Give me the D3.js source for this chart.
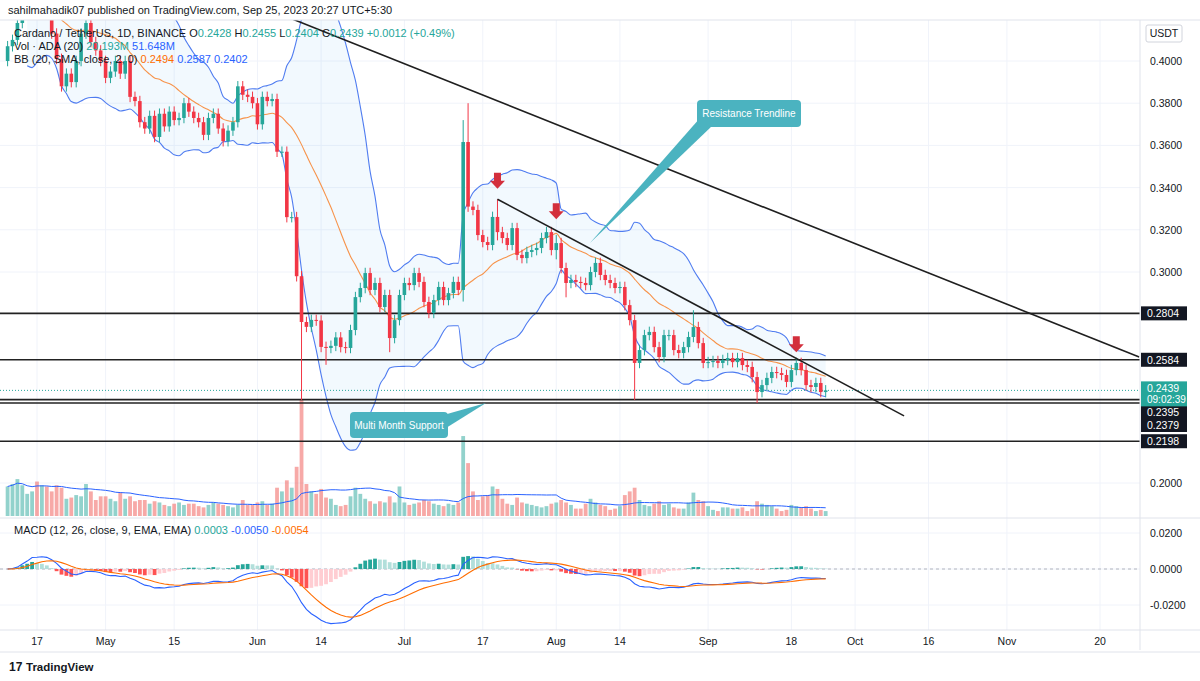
<!DOCTYPE html>
<html><head><meta charset="utf-8">
<script src="https://cdn.jsdelivr.net/npm/d3@7"></script>
<style>body{margin:0;background:#fff}svg{display:block;font-family:"Liberation Sans",Arial,sans-serif}</style>
</head><body><svg id="c" width="1200" height="681"></svg>
<script>
// ---- DATA (daily, starting 2023-04-11) ----
const startDate = "2023-04-11";
const closes = [
0.407,0.410,0.418,0.432,0.435,0.445,0.428,0.432,0.425,0.413,
0.401,0.388,0.394,0.390,0.400,0.413,0.418,0.409,0.405,0.400,
0.392,0.395,0.400,0.394,0.400,0.383,0.381,0.371,0.368,0.374,0.364,0.375,0.369,0.376,0.372,0.373,0.380,0.376,0.373,0.371,0.365,0.373,0.375,0.368,0.362,0.367,0.371,0.388,0.384,0.383,0.380,
0.370,0.383,0.381,0.382,0.357,0.357,0.326,0.326,0.298,
0.2763,0.274,0.2773,0.277,0.2645,0.264,0.265,0.269,0.2644,0.264,0.2725,0.2881,0.2924,0.2995,0.2915,0.2948,0.2834,0.2891,0.2687,0.2772,0.2891,
0.2948,0.2938,0.2995,0.2953,0.2858,0.2806,0.2867,0.2929,0.2867,0.290,0.2953,0.2915,0.3616,0.331,0.3294,0.3175,0.3142,0.3128,0.3261,0.3189,0.3161,0.3128,0.3208,0.3081,0.3066,0.3095,0.3104,0.3114,0.3161,0.3189,0.3104,
0.3137,0.3019,0.2948,0.2962,0.2953,0.2948,0.2938,0.300,0.3043,0.2986,0.2962,0.2948,0.2924,0.2929,0.2843,0.2772,0.2569,0.263,0.2701,0.2716,0.2644,0.2597,0.2701,0.2701,0.263,0.2616,0.2644,0.2692,0.2739,0.2663,0.2569,
0.2573,0.2578,0.2569,0.2583,0.2592,0.2573,0.2592,0.2559,0.255,0.2502,0.2431,0.2464,0.2498,0.2526,0.2521,0.2512,0.2479,0.2535,0.2569,0.2535,0.2464,0.2455,0.2474,0.2431,0.2439];
const firstOpen = 0.400;
// notable wicks: [date, high, low]
const wicks = [
["2023-06-10",0.2990,0.2393],["2023-07-13",0.3720,0.2860],["2023-07-14",0.3800,0.3300],
["2023-07-20",0.3345,0.3150],["2023-08-01",0.3175,0.3060],["2023-08-17",0.2790,0.2393],
["2023-08-29",0.2819,0.2690],["2023-09-11",0.2510,0.2379],["2023-09-19",0.2592,0.2520],
["2023-06-15",0.2660,0.2560],["2023-06-28",0.2860,0.2620],["2023-08-03",0.3020,0.2880]];
const volumes = [
240,260,300,250,180,200,280,250,240,200,
250,230,140,150,170,160,260,200,130,160,
160,140,120,190,140,160,120,130,130,100,120,110,90,80,100,110,90,100,100,80,70,90,110,100,90,80,70,90,130,90,90,
110,120,90,100,230,200,290,230,400,
950,260,200,180,220,150,140,90,80,90,160,230,180,140,120,100,120,110,160,110,240,
110,90,100,110,130,120,100,90,80,100,90,110,650,430,200,130,160,170,240,220,140,100,90,150,110,100,90,80,70,80,100,
110,130,110,90,60,60,100,140,110,90,80,50,60,80,170,200,230,130,90,80,100,120,90,100,70,60,60,110,190,130,120,
80,50,40,70,70,60,60,70,40,60,120,100,90,80,60,40,50,90,80,70,80,60,40,50,40];
const priceTicks = [0.4,0.38,0.36,0.34,0.32,0.30,0.20];
const levels = [0.2804,0.2584,0.2395,0.2379,0.2198];
const lastPrice = 0.2439;
const macdTicks = [0.02,0,-0.02];
const dateTicks = ["2023-04-17","2023-05-01","2023-05-15","2023-06-01","2023-06-14","2023-07-01","2023-07-17","2023-08-01","2023-08-14","2023-09-01","2023-09-18","2023-10-01","2023-10-16","2023-11-01","2023-11-20"];
const trendlines = [[["2023-06-07T14:00",0.4204],["2023-11-28",0.2597]],[["2023-07-20",0.3345],["2023-10-11",0.2318]]];
const arrowsAt = [["2023-07-20",0.3395],["2023-08-01",0.3250],["2023-09-19",0.2620]];

// ---- BUILD ----
const P = s=>new Date(s+(s.length<=10?"T00:00Z":"Z"));
const t0 = P(startDate);
const data = closes.map((c,i)=>{
  const d = d3.utcDay.offset(t0,i);
  const o = i===0?firstOpen:closes[i-1];
  let h = Math.max(o,c)+0.0025, l = Math.min(o,c)-0.0025;
  const w = wicks.find(w=>+P(w[0])===+d); if(w){h=Math.max(h,w[1]);l=Math.min(l,w[2]);}
  return {d,o,c,h,l,v:volumes[i]};
});
const bb = data.map((p,i)=>{const win=closes.slice(Math.max(0,i-19),i+1);const m=d3.mean(win);const sd=Math.sqrt(d3.mean(win,x=>(x-m)*(x-m)));return {d:p.d,m,u:m+2*sd,lo:m-2*sd};}).slice(4);
const volMa = data.map((p,i)=>({d:p.d,v:d3.mean(volumes.slice(Math.max(0,i-19),i+1))}));
function ema(arr,n){const k=2/(n+1);let e=arr[0];return arr.map(x=>(e=x*k+e*(1-k)));}
const e12=ema(closes,12),e26=ema(closes,26);
const macd=e12.map((x,i)=>x-e26[i]);const sig=ema(macd,9);
const mdata=data.map((p,i)=>({d:p.d,m:macd[i],s:sig[i],h:macd[i]-sig[i]}));

const svg=d3.select("#c");
const W=1140;
const x=d3.scaleUtc().domain([P("2023-04-17"),P("2023-11-20")]).range([37,1100]);
const y=d3.scaleLinear().domain([0.2,0.4]).range([483,61]);
const yv=d3.scaleLinear().domain([0,1000]).range([516,393]);
const ym=d3.scaleLinear().domain([-0.02,0.02]).range([605,533]);

const defs=svg.append("defs");
defs.append("clipPath").attr("id","cp").append("rect").attr("x",0).attr("y",20).attr("width",W).attr("height",497);
defs.append("clipPath").attr("id","cm").append("rect").attr("x",0).attr("y",519).attr("width",W).attr("height",110);

const g=svg.append("g");
g.selectAll(".vg").data(dateTicks).join("line").attr("x1",d=>x(P(d))).attr("x2",d=>x(P(d))).attr("y1",20).attr("y2",630).attr("stroke","#f0f3fa");
g.selectAll(".hg").data(priceTicks).join("line").attr("x1",0).attr("x2",W).attr("y1",d=>y(d)).attr("y2",d=>y(d)).attr("stroke","#f0f3fa");
g.selectAll(".mg").data(macdTicks).join("line").attr("x1",0).attr("x2",W).attr("y1",d=>ym(d)).attr("y2",d=>ym(d)).attr("stroke","#f0f3fa");

const pane=svg.append("g").attr("clip-path","url(#cp)");
pane.selectAll(".vol").data(data).join("rect").attr("x",d=>x(d.d)-1.9).attr("width",3.8)
 .attr("y",d=>yv(d.v)).attr("height",d=>516-yv(d.v)).attr("fill",d=>d.c>=d.o?"rgba(38,166,154,0.5)":"rgba(239,83,80,0.5)");
pane.append("path").datum(volMa).attr("d",d3.line().x(d=>x(d.d)).y(d=>yv(d.v))).attr("fill","none").attr("stroke","#2962ff").attr("stroke-width",1);
pane.append("path").datum(bb).attr("d",d3.area().x(d=>x(d.d)).y0(d=>y(d.lo)).y1(d=>y(d.u)).curve(d3.curveMonotoneX)).attr("fill","rgba(33,150,243,0.06)");
["u","lo"].forEach(k=>pane.append("path").datum(bb).attr("d",d3.line().x(d=>x(d.d)).y(d=>y(d[k])).curve(d3.curveMonotoneX)).attr("fill","none").attr("stroke","#4f7cf0").attr("stroke-width",1.1));
pane.append("path").datum(bb).attr("d",d3.line().x(d=>x(d.d)).y(d=>y(d.m)).curve(d3.curveMonotoneX)).attr("fill","none").attr("stroke","#f7934a").attr("stroke-width",1.1);
pane.selectAll(".lv").data(levels).join("line").attr("x1",0).attr("x2",W).attr("y1",d=>y(d)).attr("y2",d=>y(d)).attr("stroke","#222").attr("stroke-width",1.6);
pane.append("line").attr("x1",0).attr("x2",W).attr("y1",y(lastPrice)).attr("y2",y(lastPrice)).attr("stroke","#26a69a").attr("stroke-dasharray","1,2");
const cg=pane.selectAll(".cd").data(data).join("g");
cg.append("line").attr("x1",d=>x(d.d)).attr("x2",d=>x(d.d)).attr("y1",d=>y(d.h)).attr("y2",d=>y(d.l)).attr("stroke",d=>d.c>=d.o?"#26a69a":"#f23645");
cg.append("rect").attr("x",d=>x(d.d)-1.8).attr("width",3.6).attr("y",d=>y(Math.max(d.o,d.c))).attr("height",d=>Math.max(1,Math.abs(y(d.o)-y(d.c)))).attr("fill",d=>d.c>=d.o?"#26a69a":"#f23645");
pane.selectAll(".tl").data(trendlines).join("line").attr("x1",d=>x(P(d[0][0]))).attr("y1",d=>y(d[0][1])).attr("x2",d=>x(P(d[1][0]))).attr("y2",d=>y(d[1][1])).attr("stroke","#1f1f1f").attr("stroke-width",1.6);
pane.selectAll(".ar").data(arrowsAt).join("path").attr("transform",d=>`translate(${x(P(d[0]))},${y(d[1])})`)
 .attr("d","M-3.5,-16 L3.5,-16 L3.5,-8 L7.5,-8 L0,0 L-7.5,-8 L-3.5,-8 Z").attr("fill","#d32f3c");
function callout(bx,by,bw,bh,txt,tip,base){
  pane.append("path").attr("d",`M${base[0][0]},${base[0][1]} L${tip[0]},${tip[1]} L${base[1][0]},${base[1][1]} Z`).attr("fill","#4bb3c0");
  pane.append("rect").attr("x",bx).attr("y",by).attr("width",bw).attr("height",bh).attr("rx",4).attr("fill","#4bb3c0");
  pane.append("text").attr("x",bx+bw/2).attr("y",by+bh/2+3.5).attr("text-anchor","middle").attr("fill","#fff").attr("font-size",10).text(txt);
}
callout(697,100,104,27,"Resistance Trendline",[590,243],[[700,118],[712,126]]);
callout(350,412,98,26,"Multi Month Support",[486,403],[[440,416],[446,428]]);

const mp=svg.append("g").attr("clip-path","url(#cm)");
mp.append("line").attr("x1",0).attr("x2",W).attr("y1",ym(0)).attr("y2",ym(0)).attr("stroke","#b2b5be").attr("stroke-dasharray","3,3");
mp.selectAll(".mh").data(mdata).join("rect").attr("x",d=>x(d.d)-1.9).attr("width",3.8)
 .attr("y",d=>Math.min(ym(d.h),ym(0))).attr("height",d=>Math.abs(ym(d.h)-ym(0)))
 .attr("fill",(d,i)=>{const p=i?mdata[i-1].h:d.h;return d.h>=0?(d.h>=p?"#26a69a":"#b2dfdb"):(d.h<p?"#ff5252":"#ffcdd2");});
mp.append("path").datum(mdata).attr("d",d3.line().x(d=>x(d.d)).y(d=>ym(d.m))).attr("fill","none").attr("stroke","#2962ff").attr("stroke-width",1.1);
mp.append("path").datum(mdata).attr("d",d3.line().x(d=>x(d.d)).y(d=>ym(d.s))).attr("fill","none").attr("stroke","#ff6d00").attr("stroke-width",1.1);

svg.append("line").attr("x1",0).attr("x2",1200).attr("y1",518).attr("y2",518).attr("stroke","#e0e3eb");
svg.append("line").attr("x1",0).attr("x2",1200).attr("y1",630).attr("y2",630).attr("stroke","#e0e3eb");
svg.append("line").attr("x1",W).attr("x2",W).attr("y1",20).attr("y2",650).attr("stroke","#e0e3eb");
svg.append("line").attr("x1",0).attr("x2",1200).attr("y1",20).attr("y2",20).attr("stroke","#e0e3eb");
svg.append("line").attr("x1",0).attr("x2",1200).attr("y1",652).attr("y2",652).attr("stroke","#e0e3eb");

const ax=svg.append("g").attr("font-size",10.5).attr("fill","#131722");
ax.selectAll(".pt").data(priceTicks).join("text").attr("x",1150).attr("y",d=>y(d)+4).text(d=>d.toFixed(4));
ax.selectAll(".mt").data(macdTicks).join("text").attr("x",1150).attr("y",d=>ym(d)+4).text(d=>d.toFixed(4));
const lblY={0.2804:y(0.2804),0.2584:y(0.2584),0.2395:412,0.2379:425,0.2198:y(0.2198)};
levels.forEach(v=>{const yy=lblY[v];ax.append("rect").attr("x",1141).attr("y",yy-7).attr("width",46).attr("height",14).attr("fill","#131722");
 ax.append("text").attr("x",1147).attr("y",yy+4).attr("fill","#fff").text(v.toFixed(4));});
ax.append("rect").attr("x",1141).attr("y",y(lastPrice)-9).attr("width",46).attr("height",25).attr("fill","#26a69a");
ax.append("text").attr("x",1147).attr("y",y(lastPrice)+2).attr("fill","#fff").text(lastPrice.toFixed(4));
ax.append("text").attr("x",1147).attr("y",y(lastPrice)+13).attr("fill","#fff").attr("font-size",10).text("09:02:39");
ax.append("rect").attr("x",1146).attr("y",25).attr("width",36).attr("height",17).attr("rx",2).attr("fill","#fff").attr("stroke","#d1d4dc");
ax.append("text").attr("x",1164).attr("y",37).attr("text-anchor","middle").text("USDT");

svg.append("g").attr("font-size",10.5).attr("fill","#131722").selectAll("text").data(dateTicks).join("text")
 .attr("x",d=>x(P(d))).attr("y",645).attr("text-anchor","middle")
 .text(d=>{const t=P(d);return t.getUTCDate()===1?d3.utcFormat("%b")(t):t.getUTCDate();});

svg.append("text").attr("x",8).attr("y",14).attr("font-size",11).attr("fill","#131722").text("sahilmahadik07 published on TradingView.com, Sep 25, 2023 20:27 UTC+5:30");
const lg=svg.append("g").attr("font-size",11);
function leg(yy,parts){const t=lg.append("text").attr("x",14).attr("y",yy);parts.forEach(p=>t.append("tspan").attr("fill",p[1]).text(p[0]));}
leg(37,[["Cardano / TetherUS, 1D, BINANCE  ","#131722"],["O","#131722"],["0.2428  ","#26a69a"],["H","#131722"],["0.2455  ","#26a69a"],["L","#131722"],["0.2404  ","#26a69a"],["C","#131722"],["0.2439 +0.0012 (+0.49%)","#26a69a"]]);
leg(50,[["Vol · ADA (20)  ","#131722"],["20.193M  ","#26a69a"],["51.648M","#2962ff"]]);
leg(63,[["BB (20, SMA, close, 2, 0)  ","#131722"],["0.2494  ","#ff6d00"],["0.2587  ","#2962ff"],["0.2402","#2962ff"]]);
leg(534,[["MACD (12, 26, close, 9, EMA, EMA)  ","#131722"],["0.0003  ","#26a69a"],["-0.0050  ","#2962ff"],["-0.0054","#ff6d00"]]);
const ft=svg.append("g");
ft.append("text").attr("x",9).attr("y",671).attr("font-size",12).attr("font-weight","bold").attr("fill","#131722").text("17");
ft.append("text").attr("x",26).attr("y",671).attr("font-size",11.5).attr("font-weight","bold").attr("fill","#131722").text("TradingView");
</script></body></html>
